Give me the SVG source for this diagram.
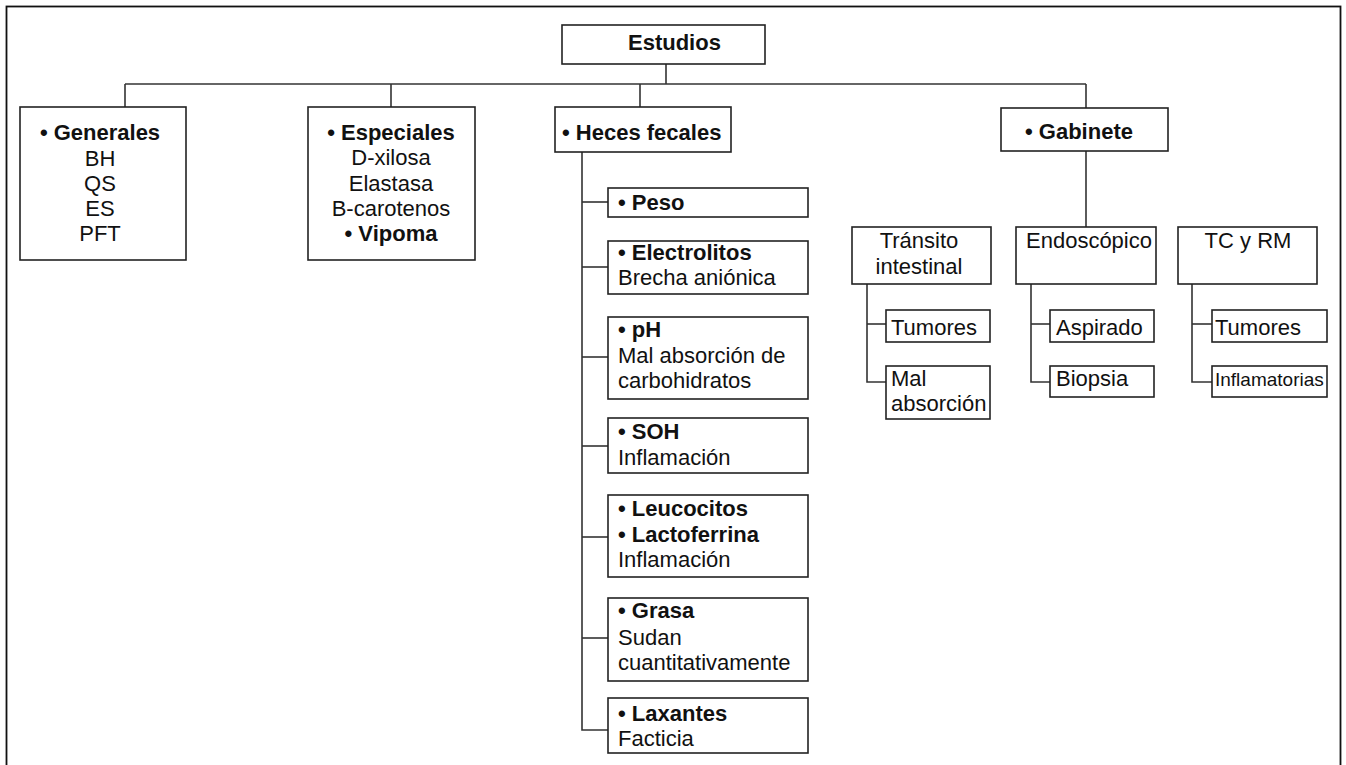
<svg xmlns="http://www.w3.org/2000/svg" width="1346" height="765" viewBox="0 0 1346 765">
<style>
rect.box{fill:#fff;stroke:#222;stroke-width:1.6}
.c line,.c path{stroke:#333;stroke-width:1.6;fill:none}
text{font-family:"Liberation Sans",Arial,Helvetica,sans-serif;font-size:22px;fill:#111}
.b{font-weight:bold}
.m{text-anchor:middle}
.s{font-size:19px}
</style>
<rect x="0" y="0" width="1346" height="765" fill="#fff"/>
<rect x="6.5" y="6.5" width="1334" height="800" fill="none" stroke="#111" stroke-width="1.8"/>
<g class="c" id="connectors">
<line x1="666" y1="64" x2="666" y2="84"/>
<line x1="125" y1="84" x2="1086" y2="84"/>
<line x1="125" y1="84" x2="125" y2="107"/>
<line x1="391" y1="84" x2="391" y2="107"/>
<line x1="640" y1="84" x2="640" y2="107"/>
<line x1="1086" y1="84" x2="1086" y2="108"/>
<path d="M582 152 V730 H608"/>
<line x1="582" y1="202" x2="608" y2="202"/>
<line x1="582" y1="267" x2="608" y2="267"/>
<line x1="582" y1="357" x2="608" y2="357"/>
<line x1="582" y1="446" x2="608" y2="446"/>
<line x1="582" y1="537" x2="608" y2="537"/>
<line x1="582" y1="638" x2="608" y2="638"/>
<line x1="1086" y1="151" x2="1086" y2="227"/>
<path d="M867 284 V382 H886"/>
<line x1="867" y1="324" x2="886" y2="324"/>
<path d="M1031 284 V382 H1050"/>
<line x1="1031" y1="324" x2="1050" y2="324"/>
<path d="M1192 284 V382 H1212"/>
<line x1="1192" y1="324" x2="1212" y2="324"/>
</g>
<g id="estudios"><rect class="box" x="562" y="25" width="203" height="39"/><text class="b" x="628" y="50">Estudios</text></g>
<g id="generales"><rect class="box" x="20" y="107" width="166" height="153"/>
<text class="m" x="100"><tspan class="b" x="100" y="140">• Generales</tspan><tspan x="100" y="166">BH</tspan><tspan x="100" y="191">QS</tspan><tspan x="100" y="216">ES</tspan><tspan x="100" y="241">PFT</tspan></text></g>
<g id="especiales"><rect class="box" x="308" y="107" width="167" height="153"/>
<text class="m" x="391"><tspan class="b" x="391" y="140">• Especiales</tspan><tspan x="391" y="165">D-xilosa</tspan><tspan x="391" y="191">Elastasa</tspan><tspan x="391" y="216">B-carotenos</tspan><tspan class="b" x="391" y="241">• Vipoma</tspan></text></g>
<g id="heces"><rect class="box" x="555" y="107" width="176" height="45"/><text class="b" x="562" y="140">• Heces fecales</text></g>
<g id="peso"><rect class="box" x="608" y="188" width="200" height="29"/><text class="b" x="618" y="210">• Peso</text></g>
<g id="electrolitos"><rect class="box" x="608" y="241" width="200" height="53"/><text x="618"><tspan class="b" x="618" y="260">• Electrolitos</tspan><tspan x="618" y="285">Brecha aniónica</tspan></text></g>
<g id="ph"><rect class="box" x="608" y="317" width="200" height="82"/><text x="618"><tspan class="b" x="618" y="337">• pH</tspan><tspan x="618" y="363">Mal absorción de</tspan><tspan x="618" y="388">carbohidratos</tspan></text></g>
<g id="soh"><rect class="box" x="608" y="418" width="200" height="55"/><text x="618"><tspan class="b" x="618" y="439">• SOH</tspan><tspan x="618" y="465">Inflamación</tspan></text></g>
<g id="leucocitos"><rect class="box" x="608" y="495" width="200" height="82"/><text x="618"><tspan class="b" x="618" y="516">• Leucocitos</tspan><tspan class="b" x="618" y="542">• Lactoferrina</tspan><tspan x="618" y="567">Inflamación</tspan></text></g>
<g id="grasa"><rect class="box" x="608" y="598" width="200" height="83"/><text x="618"><tspan class="b" x="618" y="618">• Grasa</tspan><tspan x="618" y="645">Sudan</tspan><tspan x="618" y="670">cuantitativamente</tspan></text></g>
<g id="laxantes"><rect class="box" x="608" y="698" width="200" height="55"/><text x="618"><tspan class="b" x="618" y="721">• Laxantes</tspan><tspan x="618" y="746">Facticia</tspan></text></g>
<g id="gabinete"><rect class="box" x="1001" y="108" width="167" height="43"/><text class="b" x="1025" y="139">• Gabinete</text></g>
<g id="transito"><rect class="box" x="852" y="227" width="139" height="57"/><text class="m"><tspan x="919" y="248">Tránsito</tspan><tspan x="919" y="274">intestinal</tspan></text></g>
<g id="endoscopico"><rect class="box" x="1016" y="227" width="140" height="57"/><text class="m" x="1089" y="248">Endoscópico</text></g>
<g id="tcrm"><rect class="box" x="1178" y="227" width="139" height="57"/><text class="m" x="1248" y="248">TC y RM</text></g>
<g id="tumores1"><rect class="box" x="886" y="310" width="104" height="32"/><text x="891" y="335">Tumores</text></g>
<g id="malabsorcion"><rect class="box" x="886" y="366" width="104" height="53"/><text><tspan x="891" y="386">Mal</tspan><tspan x="891" y="411">absorción</tspan></text></g>
<g id="aspirado"><rect class="box" x="1050" y="310" width="104" height="32"/><text x="1056" y="335">Aspirado</text></g>
<g id="biopsia"><rect class="box" x="1050" y="366" width="104" height="31"/><text x="1056" y="386">Biopsia</text></g>
<g id="tumores2"><rect class="box" x="1212" y="310" width="115" height="32"/><text x="1215" y="335">Tumores</text></g>
<g id="inflamatorias"><rect class="box" x="1212" y="366" width="115" height="31"/><text class="s" x="1215" y="386">Inflamatorias</text></g>
</svg>
